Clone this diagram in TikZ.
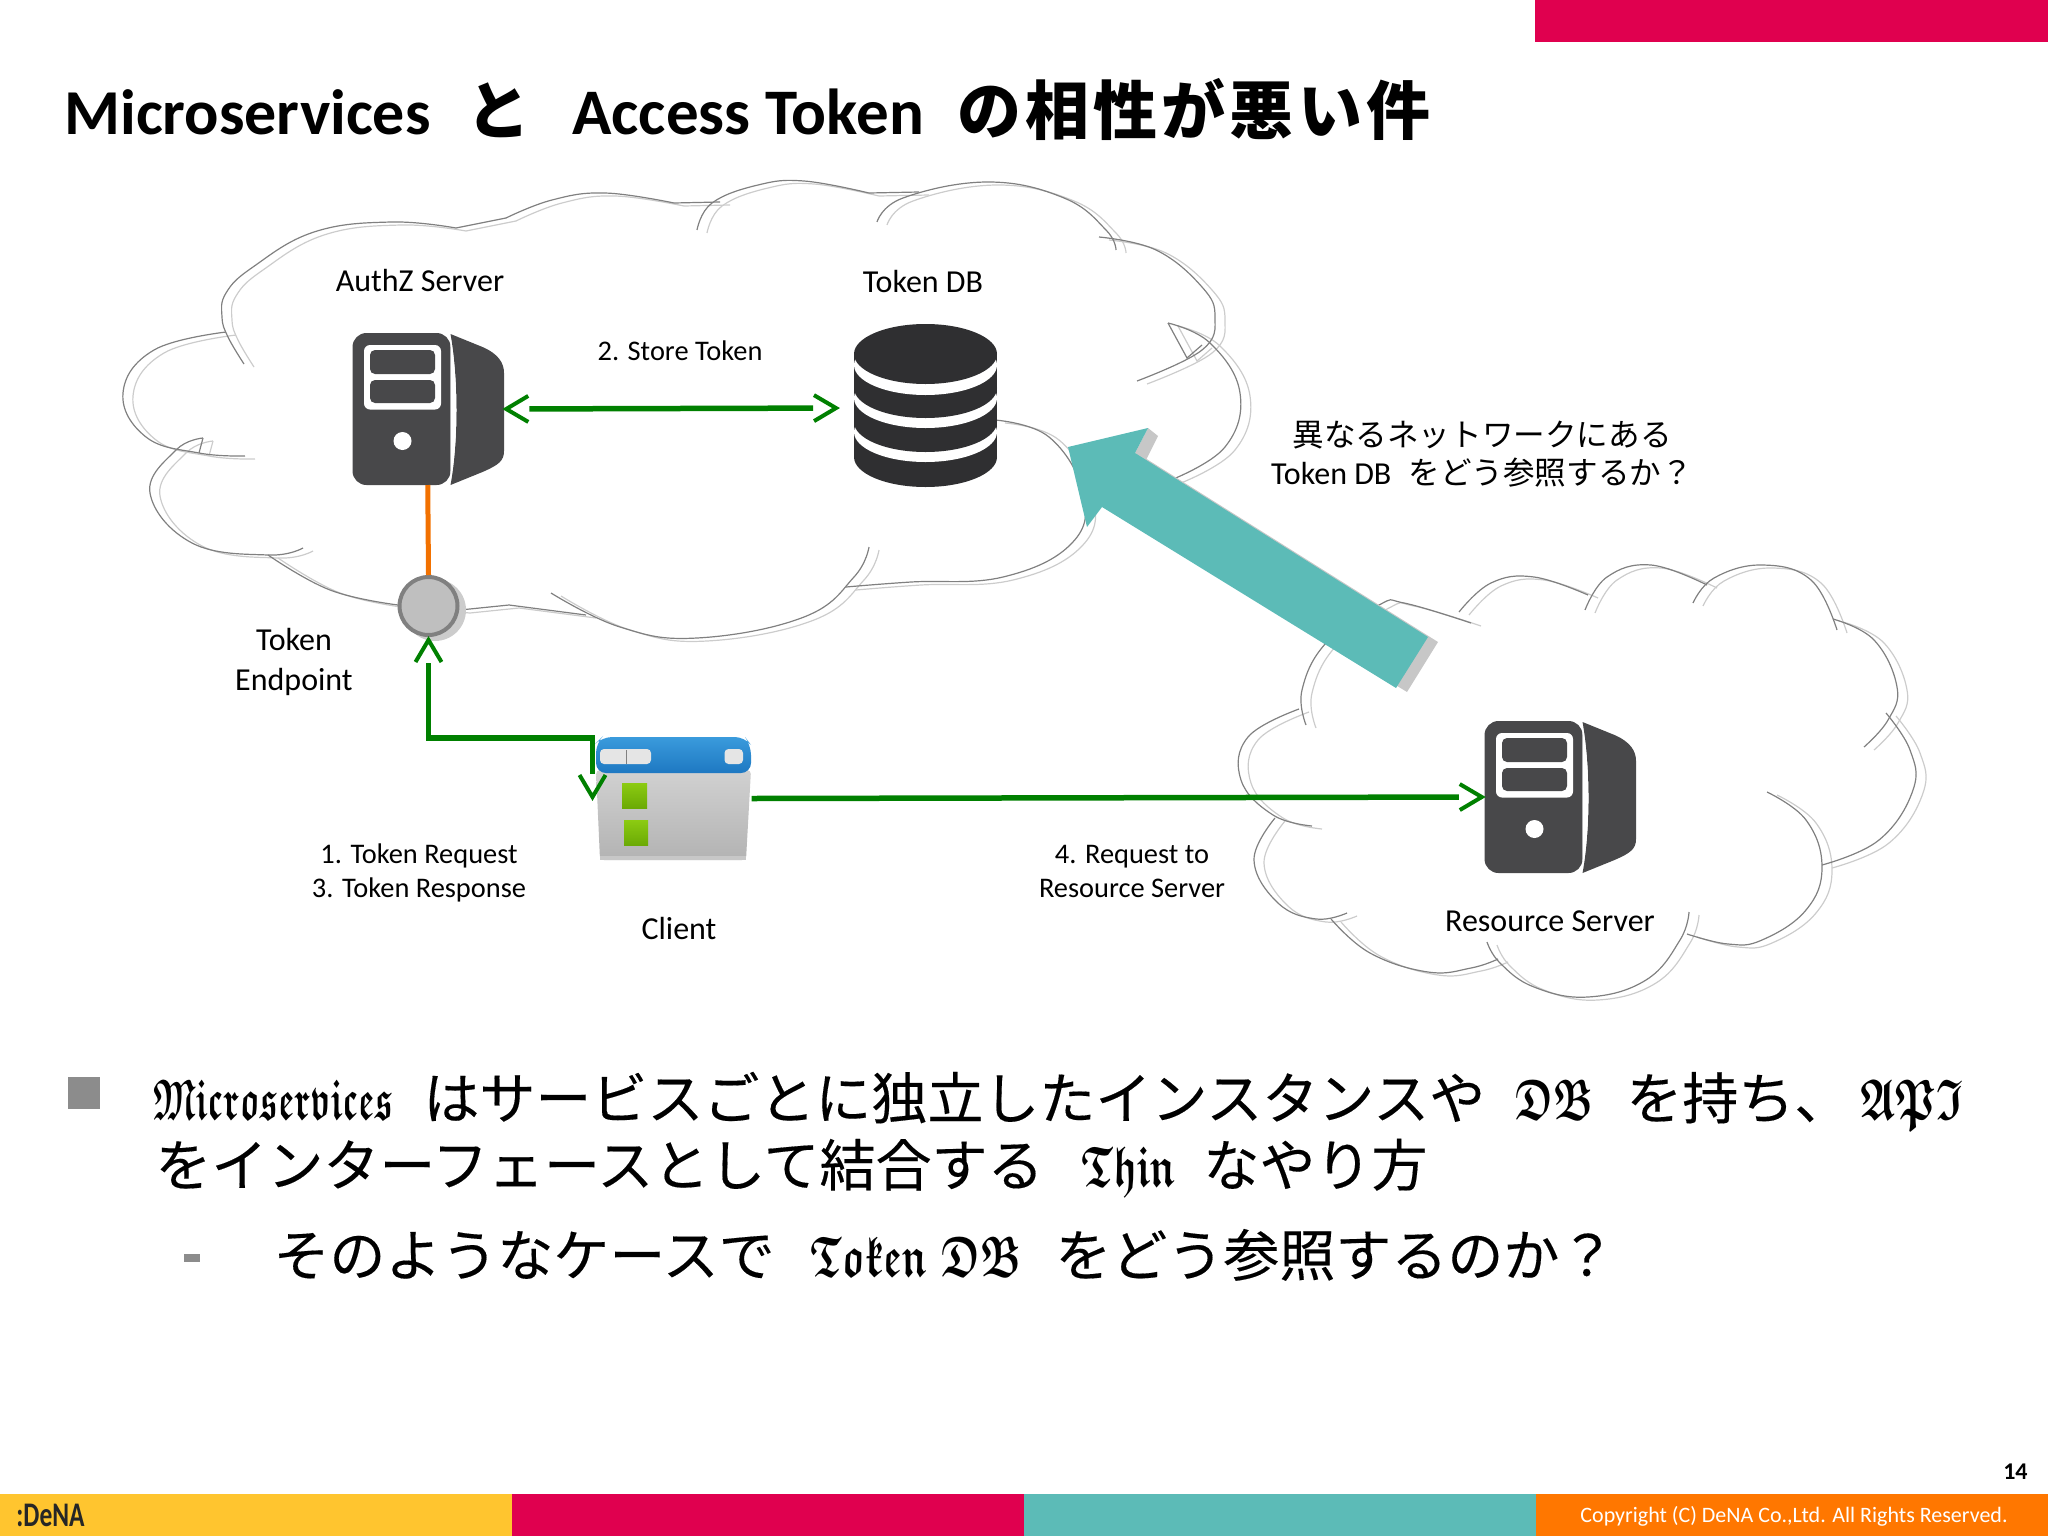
\documentclass[tikz,border=0pt]{standalone}
\usepackage{fontspec}
\usepackage{graphicx}
\setmainfont{Carlito}
\newfontfamily\cjk{Noto Sans CJK JP}
\newfontfamily\cjkbody[FakeBold=0.25]{Noto Sans CJK JP}
\newfontfamily\cjktitle[LetterSpace=6.5]{Noto Sans CJK JP}
\usetikzlibrary{arrows.meta}
\font\frakbig=eufb10 at 25pt
\definecolor{dnared}{HTML}{E0004F}
\definecolor{dnateal}{HTML}{5CBBB7}
\definecolor{dnaorange}{HTML}{FF7700}
\definecolor{dnayellow}{HTML}{FFC52F}
\definecolor{icondark}{HTML}{48484A}
\definecolor{dbdark}{HTML}{2F2F31}
\definecolor{arrowgreen}{HTML}{008000}
\definecolor{headtop}{HTML}{3A9BDC}
\definecolor{headbot}{HTML}{1E78C2}
\definecolor{keytop}{HTML}{8CCB12}
\definecolor{keybot}{HTML}{6BAA05}
\pgfdeclarearrow{
  name=Chev,
  setup code={
    \pgfarrowssettipend{0pt}
    \pgfarrowssetlineend{-13pt}
    \pgfarrowssetvisualbackend{-13pt}
    \pgfarrowssetbackend{-13pt}
    \pgfarrowshullpoint{0pt}{0pt}
    \pgfarrowshullpoint{-13pt}{7pt}
    \pgfarrowshullpoint{-13pt}{-7pt}
  },
  drawing code={
    \pgfsetdash{}{0pt}
    \pgfsetmiterjoin
    \pgfsetbuttcap
    \pgfsetlinewidth{2pt}
    \pgfpathmoveto{\pgfqpoint{-12.5pt}{6.5pt}}
    \pgfpathlineto{\pgfqpoint{-1.5pt}{0pt}}
    \pgfpathlineto{\pgfqpoint{-12.5pt}{-6.5pt}}
    \pgfusepathqstroke
  }
}
\newcommand{\jp}[1]{{\cjk #1}}
\newcommand{\gothtxt}[2]{\scalebox{#1}[1.15]{\frakbig #2}}
\newcommand{\cloudBig}{
  \draw plot[smooth,tension=0.7] coordinates {(244,364) (228,337) (222,317) (226,293) (253,267) (314,232) (391,222) (456,228)};
  \draw (456,228) -- (506,218);
  \draw plot[smooth,tension=0.7] coordinates {(506,218) (552,200) (605,193) (674,203)};
  \draw (674,203) -- (720,202);
  \draw plot[smooth,tension=0.7] coordinates {(697,230) (712,203) (758,185) (804,181) (869,193)};
  \draw (869,193) -- (919,192);
  \draw plot[smooth,tension=0.7] coordinates {(877,222) (903,198) (988,182) (1064,198) (1106,230) (1116,250)};
  \draw plot[smooth,tension=0.7] coordinates {(1099,237) (1156,250) (1202,287) (1215,317) (1202,350) (1137,381)};
  \draw (1168,323) -- (1187,358) -- (1202,345);
  \draw plot[smooth,tension=0.7] coordinates {(1168,323) (1210,343) (1240,393) (1225,447) (1171,480)};
  \draw plot[smooth,tension=0.7] coordinates {(995,420) (1049,437) (1083,493) (1072,543) (1003,577) (911,582) (846,587)};
  \draw plot[smooth,tension=0.7] coordinates {(869,547) (854,577) (804,617) (697,638) (620,627) (551,593)};
  \draw (586,615) -- (509,605) -- (460,610) -- (398,605);
  \draw plot[smooth,tension=0.7] coordinates {(398,605) (330,590) (268,555)};
  \draw plot[smooth,tension=0.7] coordinates {(303,548) (268,555) (192,543) (150,493) (176,450) (203,438)};
  \draw (203,438) -- (199,453);
  \draw plot[smooth,tension=0.7] coordinates {(245,456) (199,453) (146,437) (123,393) (154,350) (226,332)};
}
\newcommand{\cloudRes}{
  \draw plot[smooth,tension=0.7] coordinates {(1471,623) (1404,603) (1379,605) (1326,643) (1302,690) (1306,725)};
  \draw plot[smooth,tension=0.7] coordinates {(1459,612) (1491,583) (1534,577) (1588,595)};
  \draw plot[smooth,tension=0.7] coordinates {(1585,610) (1607,577) (1651,565) (1707,585)};
  \draw plot[smooth,tension=0.7] coordinates {(1693,603) (1714,578) (1762,565) (1811,580) (1837,630)};
  \draw plot[smooth,tension=0.7] coordinates {(1833,619) (1874,640) (1897,687) (1888,720) (1864,747)};
  \draw plot[smooth,tension=0.7] coordinates {(1886,713) (1910,750) (1913,790) (1879,840) (1822,865)};
  \draw plot[smooth,tension=0.7] coordinates {(1767,792) (1806,820) (1822,867) (1806,910) (1762,940) (1728,944) (1687,934)};
  \draw plot[smooth,tension=0.7] coordinates {(1689,912) (1680,940) (1646,980) (1588,997) (1534,987) (1500,963) (1487,942)};
  \draw plot[smooth,tension=0.7] coordinates {(1498,959) (1471,968) (1428,972) (1370,953) (1331,919)};
  \draw plot[smooth,tension=0.7] coordinates {(1347,913) (1316,919) (1278,903) (1254,860) (1275,818)};
  \draw plot[smooth,tension=0.7] coordinates {(1312,826) (1273,815) (1241,780) (1248,737) (1299,709)};
}
\tikzset{
  cloud dark/.style={every path/.append style={draw=black!50,line width=0.6pt}},
  cloud light/.style={every path/.append style={draw=black!20,line width=0.6pt}},
  label small/.style={align=center,inner sep=0pt,font=\fontsize{14.2}{17}\selectfont},
  label big/.style={align=center,inner sep=0pt,font=\fontsize{16}{20}\selectfont},
  note text/.style={align=center,inner sep=0pt,font=\fontsize{16}{19}\selectfont},
  body text/.style={anchor=base west,inner sep=0pt,font=\fontsize{28}{32}\cjkbody\selectfont},
  flow/.style={draw=arrowgreen,line width=2.75pt},
  anchor box/.style={inner sep=0pt,outer sep=0pt,minimum width=#1,draw=none},
  pics/server/.style={code={
    \fill[icondark,rounded corners=7pt] (0,0) rectangle (98,152);
    \fill[icondark] (98,1) -- (130,14) .. controls (146,21) and (151.5,30) .. (151.5,40)
       -- (151.5,118) .. controls (151.5,128) and (146,132) .. (130,139) -- (98,152)
       .. controls (106,110) and (106,45) .. (98,1) -- cycle;
    \fill[white] (92,0) .. controls (98,2) and (99,8) .. (98,14) -- (98,140) .. controls (99,146) and (98,150) .. (92,152)
       -- (97,152) .. controls (106,110) and (106,45) .. (97,0) -- cycle;
    \fill[white,rounded corners=3pt] (11.5,12) rectangle (88.5,76.5);
    \fill[icondark,rounded corners=2.5pt] (17.5,17) rectangle (82.5,41);
    \fill[icondark,rounded corners=2.5pt] (17.5,47) rectangle (82.5,70);
    \fill[white] (50,108) ellipse [x radius=4.5pt,y radius=4.5pt];
  }}
}
\begin{document}
\begin{tikzpicture}[x=0.5pt,y=-0.5pt]
\useasboundingbox (0,0) rectangle (2048,1536);
% slide furniture
\fill[dnared] (1535,0) rectangle (2048,42);
\fill[dnayellow] (0,1494) rectangle (512,1536);
\fill[dnared] (512,1494) rectangle (1024,1536);
\fill[dnateal] (1024,1494) rectangle (1536,1536);
\fill[dnaorange] (1536,1494) rectangle (2048,1536);
\node[anchor=base west,inner sep=0pt,font=\fontsize{32}{36}\bfseries\selectfont] (title) at (64,134)
 {\makebox[201pt][l]{Microservices}\makebox[53pt][l]{\jp{と}}\makebox[192.5pt][l]{\fontsize{32.5}{36}\selectfont Access Token}{\cjktitle\fontsize{32}{36}\selectfont の相性が悪い件}};
% clouds
\begin{scope}[shift={(10,3)},cloud light]\cloudBig\cloudRes\end{scope}
\begin{scope}[cloud dark]\cloudBig\cloudRes\end{scope}
% big arrow
\fill[black!22] (1145,458) -- (1438,642) -- (1407,692) -- (1112,512) -- cycle;
\fill[black!22] (1148,428) -- (1158,436) -- (1145,462) -- (1135,453) -- cycle;
\fill[dnateal] (1068,447) -- (1148,428) -- (1135,453) -- (1428,637) -- (1396,688) -- (1102,507) -- (1087,527) -- cycle;
% server icons
\pic at (352.5,333) {server};
\pic at (1484.5,721) {server};
\node[anchor box=75.5pt,minimum height=76pt] (authz) at (427.75,409) {};
\node[anchor box=75.5pt,minimum height=76pt] (rserver) at (1560.25,797) {};
% database icon
\fill[dbdark] (854,354) rectangle (997,457);
\fill[dbdark] (925.5,457) ellipse [x radius=35.75pt,y radius=15pt];
\fill[white] (925.5,432) ellipse [x radius=35.75pt,y radius=15pt];
\fill[dbdark] (925.5,422) ellipse [x radius=35.75pt,y radius=15pt];
\fill[white] (925.5,398) ellipse [x radius=35.75pt,y radius=15pt];
\fill[dbdark] (925.5,388) ellipse [x radius=35.75pt,y radius=15pt];
\fill[white] (925.5,365) ellipse [x radius=35.75pt,y radius=15pt];
\fill[dbdark] (925.5,354) ellipse [x radius=35.75pt,y radius=15pt];
\node[anchor box=71.5pt,minimum height=80pt] (tokendb) at (925.5,408) {};
% endpoint
\fill[black!20] (435,610) circle [radius=15.5pt];
\node[circle,fill=black!25,draw=black!50,line width=2pt,minimum size=29pt,inner sep=0pt] (endpoint) at (428.5,606) {};
% client icon
\shade[top color=black!18,middle color=black!10,bottom color=black!30,rounded corners=2pt] (596,770) -- (751,770) -- (746,860) -- (600,860) -- cycle;
\fill[black!22] (600,856) rectangle (746,860);
\shade[top color=headtop,bottom color=headbot,rounded corners=5pt] (596,773) -- (596,743) -- (602,737) -- (745,737) -- (751,745) -- (751,773) -- cycle;
\fill[black!10,rounded corners=2pt] (600,749) rectangle (651,764);
\draw[black!50,line width=0.4pt] (626,750) -- (626,764);
\fill[black!10,rounded corners=2pt] (724.5,749) rectangle (743,764);
\shade[top color=keytop,bottom color=keybot] (622,783) rectangle (647,808);
\shade[top color=keytop,bottom color=keybot] (624,820) rectangle (648,845);
\node[anchor box=77.5pt,minimum height=61.5pt] (client) at (674,798.5) {};
\coordinate (kink) at (592.5,738);
\coordinate (clientport) at (592.5,800);
% connectors
\draw[flow,{Chev}-{Chev},shorten >=7.5pt] (authz.east) -- (tokendb.west);
\draw[draw=dnaorange!95!black,line width=2.5pt] (authz.south) -- (endpoint.north);
\draw[flow,{Chev}-{Chev},line join=miter] (endpoint.south) |- (kink) -- (clientport);
\draw[flow,-{Chev}] (client.east) -- (rserver.west);
% labels
\node[label big] (lauthz) at (420,281) {AuthZ Server};
\node[label big] (ldb) at (923,281) {Token DB};
\node[label small] (lstore) at (680,351) {2. Store Token};
\node[label big,align=center,font=\fontsize{16}{20}\selectfont] (lend) at (294,662) {Token\\Endpoint};
\node[label small] (lreq) at (419,873) {1. Token Request\\3. Token Response};
\node[label big] (lclient) at (679,928) {Client};
\node[label small] (lres) at (1132,871) {4. Request to\\Resource Server};
\node[label big] (lrs) at (1550,921) {Resource Server};
\node[note text] (lnote) at (1482,454) {\jp{\fontsize{15.8}{19}\selectfont 異なるネットワークにある}\\Token DB\hspace{8.5pt}\jp{\fontsize{15.8}{19}\selectfont をどう参照するか？}};
% body
\fill[black!45] (68,1077) rectangle (100,1109);
\node[body text] (b1) at (153,1119) {\makebox[135pt][l]{\gothtxt{0.69}{Microservices}}\makebox[546pt][l]{はサービスごとに独立したインスタンスや}\makebox[55.5pt][l]{\gothtxt{0.77}{DB}}\makebox[117pt][l]{を持ち、}\gothtxt{0.83}{API}};
\node[body text] (b2) at (155,1186) {\makebox[463pt][l]{をインターフェースとして結合する}\makebox[61pt][l]{\gothtxt{0.80}{Thin}}なやり方};
\fill[black!45] (184,1254) rectangle (200,1262);
\node[body text] (b3) at (273,1276) {\makebox[268.5pt][l]{そのようなケースで}\makebox[122.5pt][l]{\gothtxt{0.79}{Token DB}}をどう参照するのか？};
% footer
\node[anchor=east,inner sep=0pt,text=white,font=\fontsize{11}{14}\selectfont] (copy) at (2008,1516) {Copyright (C) DeNA Co.,Ltd. All Rights Reserved.};
\node[anchor=east,inner sep=0pt,font=\fontsize{12}{14}\bfseries\selectfont] (page) at (2028,1472) {14};
\node[anchor=west,inner sep=0pt,font=\fontsize{15}{16}\bfseries\selectfont,text=black!85] (logo) at (16,1515) {\scalebox{0.85}[1.15]{:DeNA}};
\end{tikzpicture}
\end{document}
